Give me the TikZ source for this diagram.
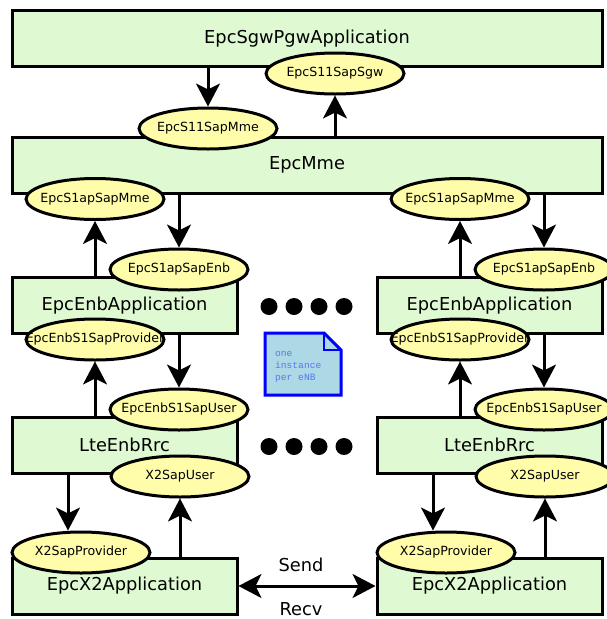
\documentclass[tikz,border=0pt]{standalone}
\usepackage{fontspec}
\setmainfont{DejaVu Sans}
\newfontfamily\notefont{Liberation Mono}
\usetikzlibrary{shapes.geometric,arrows.meta,calc}
\definecolor{boxgreen}{RGB}{223,250,210}
\definecolor{sapyellow}{RGB}{255,253,170}
\definecolor{notefill}{RGB}{173,216,230}
\definecolor{notetext}{RGB}{90,120,235}
\tikzset{
  tip/.tip={Stealth[length=23pt 0,width=24pt 0,inset=6pt 0]},
  appbox/.style={draw=black,line width=3pt,fill=boxgreen,rectangle,inner sep=0pt,
    minimum height=56pt,font=\fontsize{17.8}{20}\selectfont},
  wide/.style={minimum width=590pt},
  half/.style={minimum width=225pt},
  sap/.style={draw=black,line width=3pt,fill=sapyellow,ellipse,inner sep=0pt,
    minimum width=138pt,minimum height=41pt,font=\fontsize{12.6}{14}\selectfont},
  arr/.style={line width=3pt,-tip},
  dblarr/.style={line width=3pt,tip-tip},
  dot/.style={circle,fill=black,inner sep=0pt,minimum size=17pt},
  lbl/.style={font=\fontsize{17.8}{20}\selectfont}
}
\newcommand{\saptext}[1]{\makebox[0pt]{#1}}
\begin{document}
\begin{tikzpicture}[x=1pt,y=-1pt]
\useasboundingbox (0,0) rectangle (607,619);
% boxes
\node[appbox,wide] (sgw) at (307,38.5) {EpcSgwPgwApplication};
\node[appbox,wide] (mme) at (307,165) {EpcMme};
\node[appbox,half] (enbL) at (124.5,305.5) {EpcEnbApplication};
\node[appbox,half] (enbR) at (489.5,305.5) {EpcEnbApplication};
\node[appbox,half] (rrcL) at (124.5,445) {LteEnbRrc};
\node[appbox,half] (rrcR) at (489.5,445) {LteEnbRrc};
\node[appbox,half] (x2L) at (124.5,586) {EpcX2Application};
\node[appbox,half] (x2R) at (489.5,586) {EpcX2Application};
% saps
\node[sap] (s11sgw) at (335,73.5) {\saptext{EpcS11SapSgw}};
\node[sap] (s11mme) at (208,128.5) {\saptext{EpcS11SapMme}};
\node[sap] (s1mmeL) at (95,199) {\saptext{EpcS1apSapMme}};
\node[sap] (s1mmeR) at (460,199) {\saptext{EpcS1apSapMme}};
\node[sap] (s1enbL) at (179,269.5) {\saptext{EpcS1apSapEnb}};
\node[sap] (s1enbR) at (544,269.5) {\saptext{EpcS1apSapEnb}};
\node[sap] (provL) at (95,339.5) {\saptext{EpcEnbS1SapProvider}};
\node[sap] (provR) at (460,339.5) {\saptext{EpcEnbS1SapProvider}};
\node[sap] (userL) at (179,409.5) {\saptext{EpcEnbS1SapUser}};
\node[sap] (userR) at (544,409.5) {\saptext{EpcEnbS1SapUser}};
\node[sap] (x2uL) at (180,476.5) {\saptext{X2SapUser}};
\node[sap] (x2uR) at (545,476.5) {\saptext{X2SapUser}};
\node[sap] (x2pL) at (81,552.5) {\saptext{X2SapProvider}};
\node[sap] (x2pR) at (446,552.5) {\saptext{X2SapProvider}};
% arrows top
\draw[arr] (sgw.south -| s11mme.north) -- (s11mme.north);
\draw[arr] (mme.north -| s11sgw.south) -- (s11sgw.south);
% columns
\foreach \s in {L,R}{
  \draw[arr] (enb\s.north -| s1mme\s.south) -- (s1mme\s.south);
  \draw[arr] (mme.south -| s1enb\s.north) -- (s1enb\s.north);
  \draw[arr] (rrc\s.north -| prov\s.south) -- (prov\s.south);
  \draw[arr] (enb\s.south -| user\s.north) -- (user\s.north);
  \coordinate (pa\s) at ($(x2p\s.north)+(-13,0)$);
  \draw[arr] (rrc\s.south -| pa\s) -- (pa\s);
  \draw[arr] (x2\s.north -| x2u\s.south) -- (x2u\s.south);
}
% send/recv
\draw[dblarr] (x2L.east) -- (x2R.west)
  node[lbl,midway,above=9pt,xshift=-6pt] (send) {Send}
  node[lbl,midway,below=12pt,xshift=-6pt] (recv) {Recv};
% dots
\foreach \i/\x in {1/269,2/294,3/319,4/344}{
  \node[dot] (da\i) at (\x,306.5) {};
  \node[dot] (db\i) at (\x,446.5) {};
}
% note
\draw[line width=3pt,draw=blue,fill=notefill] (265,333) -- (324,333) -- (341,350) -- (341,395) -- (265,395) -- cycle;
\draw[line width=2pt,draw=blue] (324,333) -- (324,350) -- (341,350);
\node[anchor=north west,align=left,inner sep=0pt,text=notetext,font=\notefont\fontsize{9.6}{12.2}\selectfont] (note) at (275,351) {one\\instance\\per eNB};
\end{tikzpicture}
\end{document}
